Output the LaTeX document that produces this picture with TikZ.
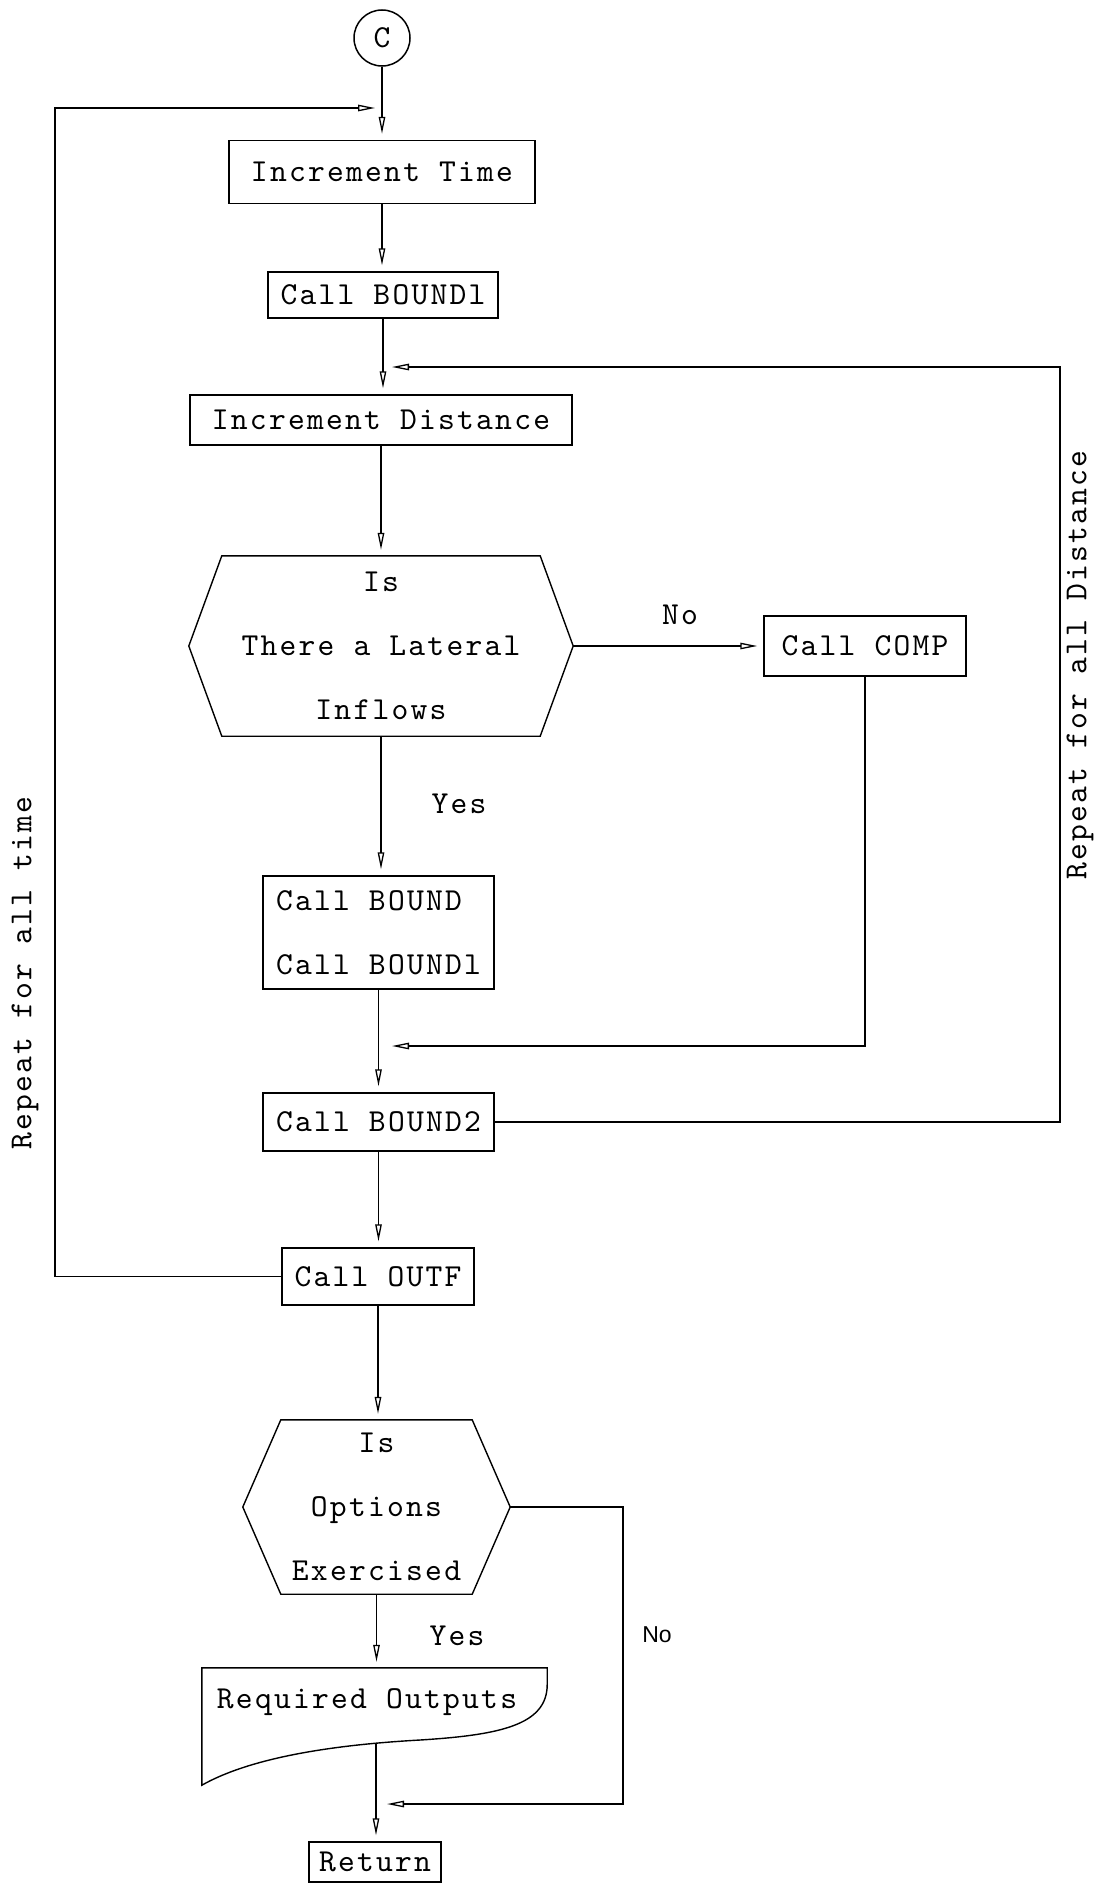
\documentclass[tikz,border=0pt]{standalone}
\usepackage{fontspec}
\newfontfamily\labsans{Liberation Sans}
\newfontfamily\tw{lmmono10-regular.otf}[LetterSpace=7]
\usetikzlibrary{arrows.meta,calc}

\begin{document}
\begin{tikzpicture}[x=1pt,y=-1pt,
  every node/.style={font=\tw\fontsize{32}{64}\selectfont},
  box/.style={draw, line width=1.5pt, inner sep=0pt, align=center},
  lbl/.style={inner sep=0pt, align=center},
  flow/.style={line width=1.3pt, shorten >=6pt, -{Triangle[open,length=17pt,width=6.5pt,line width=1.3pt]}},
  flowto/.style={line width=1.3pt, -{Triangle[open,length=17pt,width=6.5pt,line width=1.3pt]}},
  plain/.style={line width=1.4pt}
]
\useasboundingbox (0,0) rectangle (1102,1884);

% nodes
\node[box, circle, minimum size=56pt] (c) at (382,38) {C};
\node[box, minimum width=306pt, minimum height=63pt] (inctime) at (382,172) {Increment Time};
\node[box, minimum width=230pt, minimum height=46pt] (bound1) at (383,295) {Call BOUNDl};
\node[box, minimum width=382pt, minimum height=50pt] (incdist) at (381,420) {Increment Distance};
\node[lbl, minimum width=384pt, minimum height=180pt] (hex1) at (381,646) {Is\\There a Lateral\\Inflows};
\draw[plain] (hex1.west) -- ([xshift=33pt]hex1.north west) -- ([xshift=-33pt]hex1.north east)
  -- (hex1.east) -- ([xshift=-33pt]hex1.south east) -- ([xshift=33pt]hex1.south west) -- cycle;
\node[box, minimum width=202pt, minimum height=60pt] (comp) at (865,646) {Call COMP};
\node[box, minimum width=231pt, minimum height=113pt, align=left] (bound) at (378.5,932.5) {Call BOUND\\Call BOUNDl};
\node[box, minimum width=231pt, minimum height=58pt] (bound2) at (378.5,1122) {Call BOUND2};
\node[box, minimum width=192pt, minimum height=57pt] (outf) at (378,1276.5) {Call OUTF};
\node[lbl, minimum width=267pt, minimum height=174pt] (hex2) at (376.5,1507) {Is\\Options\\Exercised};
\draw[plain] (hex2.west) -- ([xshift=38pt]hex2.north west) -- ([xshift=-38pt]hex2.north east)
  -- (hex2.east) -- ([xshift=-38pt]hex2.south east) -- ([xshift=38pt]hex2.south west) -- cycle;
\node[lbl, minimum width=345pt, minimum height=117pt] (req) at (374.5,1726.5) {};
\draw[plain] (req.north west) -- (req.north east) -- ($(req.north east)+(0,17)$)
  .. controls (547,1725) and (500,1735) .. (420,1740)
  .. controls (330,1745) and (250,1758) .. (req.south west) -- cycle;
\node[lbl] (reqtext) at (367,1702) {Required Outputs};
\coordinate (reqbot) at (376,1743);
\node[box, minimum width=132pt, minimum height=40pt] (ret) at (375,1862) {Return};

% labels
\node[lbl] (no1) at (680,615) {No};
\node[lbl] (yes1) at (459,804) {Yes};
\node[lbl, font=\labsans\fontsize{23}{28}\selectfont] (no2) at (657,1635) {No};
\node[lbl] (yes2) at (457,1636) {Yes};
\node[lbl, rotate=90] (rep1) at (25,973) {Repeat for all time};
\node[lbl, rotate=90] (rep2) at (1080,665) {Repeat for all Distance};

% coordinates for free ends
\coordinate (lcorner) at (55,108);
\coordinate (lt) at (375,108);
\coordinate (rcorner) at (1060,367);
\coordinate (rt) at (392,367);
\coordinate (ct) at (392,1046);
\coordinate (ncorner) at (623,1804);
\coordinate (nt) at (387,1804);

% main flow
\draw[flow] (c.south) -- (c.south |- inctime.north);
\draw[flow] (inctime.south) -- (inctime.south |- bound1.north);
\draw[flow] (bound1.south) -- (bound1.south |- incdist.north);
\draw[flow] (incdist.south) -- (incdist.south |- hex1.north);
\draw[flow] (hex1.east) -- (comp.west);
\draw[flow] (hex1.south) -- (hex1.south |- bound.north);
\draw[flow] (bound.south) -- (bound.south |- bound2.north);
\draw[flow] (bound2.south) -- (bound2.south |- outf.north);
\draw[flow] (outf.south) -- (outf.south |- hex2.north);
\draw[flow] (hex2.south) -- (hex2.south |- req.north);
\draw[flow] (reqbot) -- (reqbot |- ret.north);

% loops and merges
\draw[flowto] (comp.south) |- (ct);
\draw[flowto] (bound2.east) -| (rcorner) -- (rt);
\draw[flowto] (outf.west) -| (lcorner) -- (lt);
\draw[flowto] (hex2.east) -| (ncorner) -- (nt);
\end{tikzpicture}
\end{document}
